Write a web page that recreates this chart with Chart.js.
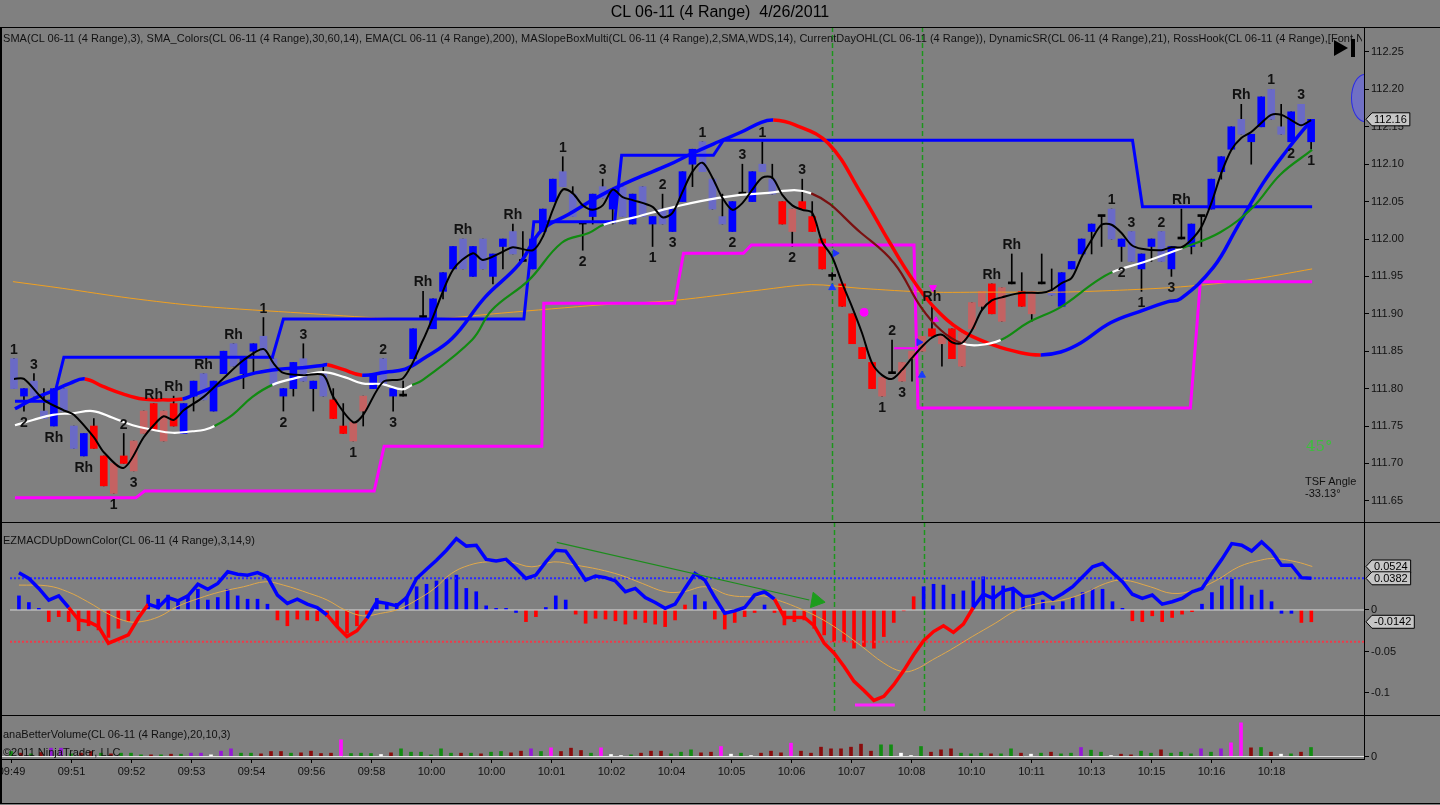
<!DOCTYPE html>
<html><head><meta charset="utf-8">
<script src="https://cdn.jsdelivr.net/npm/chart.js@4.4.1/dist/chart.umd.min.js"></script>
<style>
html,body{margin:0;padding:0;}
body{width:1440px;height:805px;background:#808080;position:relative;overflow:hidden;font-family:"Liberation Sans",Arial,sans-serif;color:#000;}
canvas{position:absolute;left:0;}
.t{position:absolute;white-space:nowrap;line-height:1;}
.hl{position:absolute;height:1px;background:#000;}
.vl{position:absolute;width:1px;background:#000;}
</style></head><body>
<canvas id="cPrice" width="1440" height="515" style="top:17px;width:1440px;height:515px"></canvas>
<canvas id="cMacd" width="1440" height="213" style="top:512px;width:1440px;height:213px"></canvas>
<canvas id="cVol" width="1440" height="100" style="top:705px;width:1440px;height:100px"></canvas>

<div class="t" style="left:0;top:4px;width:1440px;text-align:center;font-size:16px;">CL 06-11 (4 Range)&nbsp; 4/26/2011</div>
<div class="t" style="left:3px;top:33px;width:1359px;overflow:hidden;font-size:11px;letter-spacing:0.04px;color:#111;">SMA(CL 06-11 (4 Range),3), SMA_Colors(CL 06-11 (4 Range),30,60,14), EMA(CL 06-11 (4 Range),200), MASlopeBoxMulti(CL 06-11 (4 Range),2,SMA,WDS,14), CurrentDayOHL(CL 06-11 (4 Range)), DynamicSR(CL 06-11 (4 Range),21), RossHook(CL 06-11 (4 Range),[Font Name=Arial, Size=12])</div>
<div class="t" style="left:3px;top:535px;font-size:11px;color:#111;">EZMACDUpDownColor(CL 06-11 (4 Range),3,14,9)</div>
<div class="t" style="left:3px;top:729px;font-size:11px;color:#111;">anaBetterVolume(CL 06-11 (4 Range),20,10,3)</div>
<div class="t" style="left:3px;top:747px;font-size:11px;color:#111;">©2011 NinjaTrader, LLC</div>
<div class="t" style="left:1306px;top:439px;font-size:15px;color:#3cbf3c;font-family:'DejaVu Serif',serif;">45°</div>
<div class="t" style="left:1305px;top:476px;font-size:11px;color:#111;">TSF Angle</div>
<div class="t" style="left:1305px;top:488px;font-size:11px;color:#111;">-33.13°</div>

<div style="position:absolute;left:1334px;top:40px;width:0;height:0;border-left:14px solid #000;border-top:8px solid transparent;border-bottom:8px solid transparent;"></div>
<div style="position:absolute;left:1351px;top:39px;width:4px;height:18px;background:#000;"></div>
<div style="position:absolute;left:1340px;top:60px;width:24px;height:80px;overflow:hidden;">
  <div style="position:absolute;left:11px;top:14px;width:26px;height:46px;border:1px solid #2a2ae6;border-radius:50%;background:#7070c4;"></div>
</div>

<div class="hl" style="left:0;top:27px;width:1440px;"></div>
<div class="hl" style="left:0;top:522px;width:1440px;"></div>
<div class="hl" style="left:0;top:715px;width:1440px;"></div>
<div class="hl" style="left:0;top:759px;width:1364px;"></div>
<div class="hl" style="left:0;top:803px;width:1440px;"></div>
<div class="vl" style="left:0;top:27px;height:777px;width:2px;"></div>

<script>
// ---------------- DATA ----------------
const timeLabels = ['09:49','09:51','09:52','09:53','09:54','09:56','09:58','10:00','10:00','10:01','10:02','10:04','10:05','10:06','10:07','10:08','10:10','10:11','10:13','10:15','10:16','10:18'];
const timeTickBars = [0,6,12,18,24,30,36,42,48,54,60,66,72,78,84,90,96,102,108,114,120,126];

const opens = [111.84,111.79,111.81,111.77,111.75,111.80,111.75,111.71,111.75,111.71,
111.66,111.71,111.69,111.74,111.78,111.73,111.78,111.74,111.79,111.82,
111.77,111.82,111.86,111.82,111.85,111.87,111.84,111.79,111.80,111.84,
111.80,111.82,111.785,111.75,111.73,111.77,111.80,111.84,111.79,111.79,
111.84,111.895,111.88,111.93,111.96,112.00,111.95,112.00,111.95,111.99,
112.01,111.97,111.96,112.01,112.05,112.09,112.06,112.02,112.03,112.07,
112.04,112.07,112.02,112.07,112.02,112.04,112.01,112.05,112.10,112.13,
112.08,112.03,112.01,112.06,112.05,112.10,112.08,112.05,112.01,112.05,
112.03,112.00,111.95,111.94,111.90,111.855,111.835,111.79,111.82,111.81,
111.84,111.85,111.88,111.86,111.88,111.83,111.88,111.91,111.94,111.89,
111.94,111.93,111.90,111.94,111.93,111.91,111.96,111.98,112.01,112.03,
112.04,111.99,112.01,111.96,111.99,112.01,111.96,112.00,111.99,112.03,
112.04,112.09,112.12,112.16,112.13,112.15,112.20,112.15,112.13,112.18,
112.13];
const highs = [111.84,111.80,111.82,111.80,111.80,111.80,111.75,111.74,111.76,111.71,
111.70,111.74,111.73,111.77,111.78,111.77,111.79,111.78,111.81,111.82,
111.81,111.85,111.86,111.84,111.86,111.895,111.84,111.80,111.835,111.86,
111.81,111.83,111.80,111.78,111.755,111.79,111.82,111.84,111.80,111.81,
111.88,111.93,111.92,111.955,111.99,112.00,111.99,112.00,111.98,112.00,
112.02,112.01,112.00,112.04,112.08,112.11,112.07,112.02,112.06,112.08,
112.065,112.07,112.06,112.07,112.03,112.06,112.04,112.09,112.12,112.13,
112.08,112.06,112.05,112.10,112.09,112.13,112.10,112.05,112.04,112.08,
112.05,112.00,111.955,111.94,111.90,111.855,111.835,111.815,111.865,111.835,
111.85,111.87,111.91,111.87,111.88,111.875,111.915,111.93,111.94,111.935,
111.98,111.955,111.93,111.98,111.96,111.955,111.97,112.00,112.02,112.03,
112.04,112.00,112.01,111.98,112.00,112.01,111.99,112.04,112.02,112.03,
112.08,112.11,112.15,112.18,112.14,112.19,112.20,112.18,112.17,112.18,
112.16];
const lows = [111.80,111.77,111.79,111.76,111.75,111.77,111.72,111.71,111.72,111.67,
111.66,111.70,111.69,111.74,111.745,111.73,111.75,111.74,111.77,111.785,
111.77,111.82,111.83,111.80,111.82,111.84,111.805,111.77,111.79,111.81,
111.77,111.79,111.76,111.74,111.73,111.75,111.80,111.805,111.77,111.79,
111.84,111.895,111.88,111.92,111.96,111.96,111.95,111.96,111.94,111.96,
111.98,111.97,111.96,112.01,112.05,112.07,112.03,111.985,112.02,112.055,
112.02,112.03,112.02,112.03,111.99,112.02,112.01,112.05,112.07,112.09,
112.04,112.02,112.01,112.06,112.05,112.09,112.06,112.02,111.99,112.04,
112.01,111.96,111.945,111.91,111.86,111.84,111.80,111.79,111.82,111.81,
111.81,111.85,111.87,111.83,111.84,111.83,111.88,111.905,111.90,111.89,
111.94,111.91,111.89,111.94,111.925,111.91,111.96,111.98,111.98,111.99,
112.00,111.97,111.97,111.93,111.97,111.97,111.95,112.00,111.98,111.99,
112.04,112.08,112.12,112.14,112.10,112.15,112.16,112.14,112.13,112.15,
112.12];
const closes = [111.80,111.80,111.79,111.76,111.80,111.77,111.72,111.74,111.72,111.67,
111.70,111.70,111.73,111.77,111.745,111.77,111.75,111.78,111.81,111.785,
111.81,111.85,111.83,111.84,111.86,111.84,111.805,111.80,111.835,111.81,
111.81,111.79,111.76,111.74,111.755,111.79,111.82,111.805,111.80,111.79,
111.88,111.895,111.92,111.955,111.99,111.96,111.99,111.96,111.98,112.00,
111.98,111.97,112.00,112.04,112.08,112.07,112.03,112.02,112.06,112.055,
112.065,112.03,112.06,112.03,112.03,112.02,112.04,112.09,112.12,112.09,
112.04,112.02,112.05,112.06,112.09,112.09,112.06,112.02,112.04,112.04,
112.01,111.96,111.95,111.91,111.86,111.84,111.80,111.815,111.82,111.835,
111.85,111.87,111.87,111.87,111.84,111.875,111.915,111.93,111.90,111.935,
111.94,111.91,111.93,111.94,111.925,111.955,111.97,112.00,112.02,112.03,
112.00,112.00,111.97,111.98,112.00,111.97,111.99,112.00,112.02,112.03,
112.08,112.11,112.15,112.14,112.14,112.19,112.16,112.14,112.17,112.15,
112.16];
// bar trend state runs (U = blue trend, D = red trend)
const trendRuns = [['U',0,7],['D',8,16],['U',17,31],['D',32,35],['U',36,76],['D',77,103],['U',104,130]];

// RossHook labels: [bar, text, a=above high / b=below low]
const hookLabels = [[0,'1','a'],[1,'2','b'],[2,'3','a'],[4,'Rh','b'],[7,'Rh','b'],[10,'1','b'],[11,'2','a'],[12,'3','b'],[14,'Rh','a'],[16,'Rh','a'],[19,'Rh','a'],[22,'Rh','a'],[25,'1','a'],[27,'2','b'],[29,'3','a'],[34,'1','b'],[37,'2','a'],[38,'3','b'],[41,'Rh','a'],[45,'Rh','a'],[50,'Rh','a'],[55,'1','a'],[57,'2','b'],[59,'3','a'],[64,'1','b'],[65,'2','a'],[66,'3','b'],[69,'1','a'],[72,'2','b'],[73,'3','a'],[75,'1','a'],[78,'2','b'],[79,'3','a'],[87,'1','b'],[88,'2','a'],[89,'3','b'],[92,'Rh','a'],[98,'Rh','a'],[100,'Rh','a'],[110,'1','a'],[111,'2','b'],[112,'3','a'],[113,'1','b'],[115,'2','a'],[116,'3','b'],[117,'Rh','a'],[123,'Rh','a'],[126,'1','a'],[128,'2','b'],[129,'3','a'],[130,'1','b']];

// SMA(3) line [bar, price]
const smaPts = [[0,111.813],[1,111.813],[3,111.785],[5,111.771],[6,111.765],[8,111.735],[9,111.715],[11,111.694],[13,111.735],[14,111.751],[15,111.763],[16,111.758],[17,111.771],[19,111.789],[21,111.814],[23,111.838],[25,111.853],[26,111.834],[27,111.821],[29,111.818],[31,111.818],[32,111.789],[34,111.755],[35,111.765],[37,111.809],[39,111.814],[41,111.865],[42,111.896],[44,111.959],[46,111.981],[47,111.972],[49,111.983],[50,111.989],[52,111.985],[53,112.003],[54,112.039],[55,112.066],[56,112.061],[57,112.045],[58,112.039],[59,112.045],[60,112.066],[61,112.056],[62,112.052],[64,112.043],[65,112.029],[66,112.035],[67,112.063],[68,112.090],[69,112.102],[70,112.082],[71,112.055],[72,112.039],[73,112.048],[74,112.066],[75,112.082],[76,112.082],[77,112.059],[78,112.045],[79,112.039],[80,112.035],[81,111.996],[82,111.976],[83,111.941],[84,111.909],[85,111.874],[86,111.834],[87,111.818],[88,111.813],[89,111.825],[90,111.841],[91,111.856],[92,111.868],[93,111.872],[94,111.862],[95,111.861],[96,111.878],[97,111.905],[98,111.918],[99,111.922],[101,111.928],[103,111.928],[104,111.932],[105,111.941],[106,111.948],[107,111.976],[108,111.999],[109,112.019],[110,112.019],[111,112.008],[112,111.992],[113,111.987],[115,111.985],[116,111.989],[117,111.989],[118,111.999],[119,112.016],[120,112.048],[121,112.088],[122,112.119],[123,112.135],[124,112.143],[125,112.155],[126,112.166],[127,112.166],[128,112.159],[129,112.152],[130,112.159]];

// SMA_Colors slow line [bar, price, state of segment starting here: w=white g=green m=maroon]
const midPts = [[0.1,111.751,'w'],[1.9,111.758,'w'],[3.9,111.765,'w'],[5.9,111.767,'w'],[7.9,111.770,'w'],[9.9,111.761,'w'],[11.9,111.751,'w'],[13.9,111.745,'w'],[15.9,111.741,'w'],[17.9,111.743,'w'],[19.1,111.745,'w'],
[20.1,111.750,'g'],[21.9,111.765,'g'],[23.9,111.789,'g'],
[25.9,111.805,'w'],[28.2,111.814,'w'],[30.9,111.822,'w'],[33.2,111.815,'w'],[34.9,111.807,'w'],[36.9,111.806,'w'],[38.9,111.799,'w'],
[39.9,111.805,'g'],[40.9,111.811,'g'],[45.9,111.865,'g'],[47.9,111.905,'g'],[51.6,111.945,'g'],[54.9,111.995,'g'],[57.6,112.008,'g'],
[59.1,112.019,'w'],[62.2,112.029,'w'],[66.2,112.043,'w'],[70.6,112.055,'w'],[74.9,112.061,'w'],
[79.9,112.061,'m'],[84.9,112.008,'m'],[88.2,111.968,'m'],[90.9,111.909,'m'],[92.9,111.878,'m'],
[94.9,111.861,'w'],[96.6,111.858,'w'],
[98.9,111.865,'g'],[101.6,111.888,'g'],[104.9,111.909,'g'],[108.2,111.941,'g'],
[110.1,111.956,'w'],[113.2,111.969,'w'],
[117.1,111.988,'g'],[120.9,112.009,'g'],[124.2,112.043,'g'],[126.9,112.086,'g'],[130.1,112.119,'g']];

// SMA_Colors fast line [bar, price, b=blue r=red]
const fastPts = [[0.1,111.773,'b'],[1.9,111.786,'b'],[3.9,111.797,'b'],[5.6,111.807,'b'],
[7.1,111.813,'r'],[8.9,111.803,'r'],[10.9,111.793,'r'],[12.9,111.786,'r'],[14.9,111.785,'r'],
[16.9,111.786,'b'],[17.9,111.791,'b'],[20.2,111.803,'b'],[22.2,111.813,'b'],[24.2,111.821,'b'],[26.6,111.826,'b'],[28.9,111.828,'b'],[30.9,111.831,'b'],
[31.4,111.832,'r'],[32.9,111.826,'r'],
[34.9,111.818,'b'],[37.2,111.822,'b'],[39.2,111.826,'b'],[40.9,111.839,'b'],[43.9,111.867,'b'],[47.2,111.922,'b'],[50.6,111.966,'b'],[52.9,112.012,'b'],[55.6,112.033,'b'],[58.9,112.059,'b'],[62.2,112.080,'b'],[65.6,112.099,'b'],[67.9,112.114,'b'],[70.6,112.130,'b'],[72.9,112.143,'b'],[74.9,112.156,'b'],
[76.1,112.159,'r'],[78.2,112.153,'r'],[81.6,112.128,'r'],[84.9,112.061,'r'],[87.6,111.999,'r'],[89.9,111.949,'r'],[92.2,111.909,'r'],[94.9,111.878,'r'],[98.2,111.858,'r'],[100.9,111.848,'r'],
[102.9,111.845,'b'],[104.9,111.849,'b'],[106.9,111.861,'b'],[109.9,111.888,'b'],[113.2,111.905,'b'],[115.6,111.916,'b'],[116.9,111.920,'b'],[120.2,111.962,'b'],[122.6,112.016,'b'],[125.2,112.075,'b'],[127.6,112.119,'b'],[129.9,112.157,'b']];

// EMA(200)
const emaPts = [[-0.1,111.943],[4.9,111.934],[11.6,111.921],[18.9,111.910],[28.9,111.901],[37.2,111.894],[41.9,111.893],[48.9,111.901],[58.9,111.912],[66.2,111.918],[74.9,111.932],[79.9,111.939],[84.9,111.934],[91.6,111.929],[98.2,111.929],[104.9,111.929],[111.6,111.932],[116.9,111.936],[123.6,111.945],[130.1,111.960]];

// DynamicSR resistance / support steps
const resistPts = [[0.1,111.783],[3.9,111.783],[5.0,111.842],[25.9,111.842],[27.0,111.893],[51.1,111.893],[52.1,112.023],[60.2,112.023],[60.9,112.112],[70.1,112.112],[71.1,112.132],[112.1,112.132],[113.1,112.043],[130.1,112.043]];
const supportPts = [[0.1,111.654],[12.2,111.654],[13.1,111.663],[36.1,111.663],[37.1,111.723],[52.9,111.723],[53.1,111.914],[66.2,111.914],[67.1,111.981],[73.1,111.981],[73.9,111.992],[90.2,111.992],[90.6,111.774],[117.9,111.774],[118.9,111.943],[130.1,111.943]];
const dayLevelPts = [[88.2,111.854],[90.6,111.854]];

// signal markers
const signalBars = [82, 91];
const blueUpArrows = [[82,111.935],[91,111.818]];
const blueRightTri = [[82.3,111.981],[90.7,111.862]];
const magentaDots = [[85.2,111.902]];
const magentaDownArrows = [[92.1,111.935]];
const magentaUpArrows = [[92.4,111.892]];
const lastPrice = 112.16;
const priceTicks = [111.65,111.70,111.75,111.80,111.85,111.90,111.95,112.00,112.05,112.10,112.15,112.20,112.25];

// EZMACD
const macdVals = [0.045,0.038,0.026,0.012,0.017,0.003,-0.012,-0.014,-0.020,-0.040,
-0.035,-0.030,-0.010,0.007,0.003,0.015,0.011,0.017,0.031,0.025,
0.032,0.046,0.043,0.042,0.045,0.040,0.018,0.008,0.013,0.007,
0.003,-0.006,-0.020,-0.032,-0.025,-0.010,0.010,0.008,0.005,0.015,
0.038,0.049,0.060,0.072,0.086,0.077,0.078,0.061,0.059,0.061,
0.050,0.038,0.042,0.058,0.072,0.071,0.054,0.036,0.041,0.039,
0.035,0.022,0.026,0.015,0.009,0.002,0.007,0.026,0.044,0.036,
0.015,-0.004,-0.001,0.003,0.018,0.022,0.013,-0.009,-0.009,-0.009,
-0.019,-0.040,-0.052,-0.068,-0.086,-0.097,-0.109,-0.104,-0.090,-0.073,
-0.054,-0.037,-0.026,-0.019,-0.027,-0.017,0.003,0.019,0.014,0.023,
0.026,0.016,0.017,0.021,0.013,0.020,0.028,0.040,0.052,0.056,
0.045,0.034,0.019,0.014,0.018,0.007,0.010,0.014,0.022,0.026,
0.044,0.061,0.080,0.078,0.071,0.082,0.071,0.054,0.054,0.039,
0.0382];
const macdDownRanges = [[5,13],[31,35],[76,96]];
const signalPts = [[0.0,0.030],[2.9,0.029],[4.9,0.022],[6.9,0.010],[9.2,-0.006],[11.0,-0.014],[12.3,-0.014],[14.1,-0.008],[15.9,0.004],[18.1,0.014],[20.3,0.022],[22.6,0.028],[24.8,0.034],[26.6,0.030],[29.2,0.020],[31.0,0.012],[32.8,0.000],[34.6,-0.007],[36.4,-0.004],[38.2,0.001],[40.0,0.012],[41.8,0.026],[43.5,0.044],[45.3,0.054],[47.1,0.058],[49.4,0.058],[51.6,0.052],[53.8,0.058],[56.0,0.054],[58.3,0.049],[60.5,0.042],[62.7,0.032],[65.0,0.022],[66.8,0.022],[69.1,0.028],[71.4,0.018],[73.6,0.016],[74.9,0.017],[76.3,0.012],[78.1,0.004],[80.3,-0.008],[82.5,-0.024],[84.8,-0.044],[87.0,-0.064],[88.8,-0.074],[90.1,-0.072],[91.9,-0.060],[93.7,-0.048],[95.9,-0.032],[98.2,-0.016],[100.4,0.000],[102.6,0.008],[104.9,0.012],[107.1,0.020],[109.3,0.032],[111.1,0.036],[113.8,0.028],[116.0,0.020],[118.2,0.024],[120.5,0.036],[122.7,0.052],[124.9,0.060],[126.3,0.062],[128.5,0.058],[130.1,0.0524]];
const histVals = [0.017,0.009,0.002,-0.014,-0.008,-0.014,-0.025,-0.019,-0.024,-0.033,
-0.022,-0.014,-0.002,0.018,0.013,0.018,0.012,0.018,0.025,0.012,
0.015,0.025,0.017,0.013,0.013,0.007,-0.012,-0.019,-0.011,-0.012,
-0.013,-0.008,-0.019,-0.028,-0.019,-0.005,0.014,0.009,0.008,0.016,
0.028,0.031,0.035,0.037,0.042,0.026,0.022,0.005,0.002,0.002,
-0.003,-0.014,-0.008,0.003,0.017,0.012,-0.005,-0.016,-0.010,-0.011,
-0.013,-0.017,-0.011,-0.015,-0.017,-0.020,-0.012,0.006,0.018,0.010,
-0.011,-0.023,-0.015,-0.008,-0.003,0.006,-0.003,-0.018,-0.014,-0.012,
-0.022,-0.030,-0.038,-0.038,-0.046,-0.044,-0.046,-0.032,-0.015,-0.001,
0.016,0.028,0.031,0.030,0.019,0.023,0.035,0.040,0.029,0.029,
0.025,0.018,0.014,0.012,0.005,0.010,0.015,0.021,0.025,0.025,
0.010,0.002,-0.013,-0.014,-0.007,-0.014,-0.009,-0.005,-0.002,0.007,
0.021,0.029,0.037,0.029,0.018,0.024,0.010,-0.004,-0.004,-0.015,
-0.0142];
const histRuns = [['U',0,2],['D',3,12],['U',13,25],['D',26,35],['U',36,50],['D',51,52],['U',53,55],['D',56,67],['U',68,69],['D',70,74],['U',75,75],['D',76,90],['U',91,111],['D',112,118],['U',119,128],['D',129,130]];
const macdLevels = [0.0382, -0.0382];
const macdTrendPts = [[54.1,0.0815],[79.5,0.0120]];
const macdArrow = [[80.2,0.0112]];
const macdLowMark = [[84.1,-0.1145],[88.1,-0.1145]];
const macdTicks = [0,-0.05,-0.1];
const macdTags = [[0.0524,'0.0524'],[0.0382,'0.0382'],[-0.0142,'-0.0142']];

// anaBetterVolume
const volumes = [15,10,8,12,25,25,8,10,15,10,
8,10,10,5,5,5,7,7,10,10,
5,16,23,10,10,8,15,15,10,11,
16,9,10,50,9,10,9,6,11,23,
13,13,5,23,10,10,10,8,13,15,
11,16,23,15,26,15,25,18,10,26,
6,3,5,10,16,16,8,13,20,11,
13,30,7,10,3,10,16,11,40,16,
10,28,23,23,28,37,16,35,35,10,
3,30,13,20,23,10,8,10,8,8,
23,10,7,10,13,8,10,27,19,13,
3,7,5,16,10,20,10,13,8,23,
13,23,41,101,26,27,13,7,8,13,
27];
const volTypes = 'grgrppgrrg'+'rgggrgrgpp'+'wppggrrrgr'+'rrrmgggwrg'+'gggggrgrgg'+'rrpgmrrrgm'+'wwgrrrgggr'+'rmwgwrrrmr'+'rrrrrrrggw'+'wgrrrgggrg'+'grwgrggpgg'+'wrrggrgggp'+'gpmmrgrwgr'+'g';
const volTicks = [0];

// ---------------- CHARTS ----------------
const X_MIN = -0.9, X_MAX = 135.3;
function runsToArray(runs){ const out=[]; runs.forEach(([s,a,b])=>{ for(let i=a;i<=b;i++) out[i]=s; }); return out; }
const trend = runsToArray(trendRuns);
const histState = runsToArray(histRuns);
const bars = opens.map((_, i) => i);
const pts = arr => arr.map(p => ({x:p[0], y:p[1]}));

Chart.defaults.font.family = '"Liberation Sans", Arial, sans-serif';
Chart.defaults.font.size = 11;
Chart.defaults.color = '#111';
Chart.defaults.animation = false;
Chart.defaults.events = [];
Chart.defaults.plugins.legend.display = false;
Chart.defaults.plugins.tooltip.enabled = false;

function yAxis(min, max, ticks, fmt){
  return { type:'linear', position:'right', min:min, max:max,
    afterBuildTicks: s => { s.ticks = ticks.map(v => ({value:v})); },
    afterFit: s => { s.width = 76; s.paddingTop = 0; s.paddingBottom = 0; },
    ticks: { callback: fmt, padding: 2, color:'#111', font:{size:11}, autoSkip:false, maxRotation:0 },
    grid: { drawOnChartArea:false, drawTicks:true, tickLength:5, color:'#000' },
    border: { display:true, color:'#000', width:1 } };
}
const xAxis = () => ({ type:'linear', min:X_MIN, max:X_MAX, display:false, offset:false });
const baseOpts = (scalesY, pad) => ({ responsive:false, maintainAspectRatio:false, devicePixelRatio:1, animation:false,
  layout:{ padding: pad }, scales:{ x: xAxis(), y: scalesY }, plugins:{ legend:{display:false}, tooltip:{enabled:false} } });

function candleColor(i){
  const o = opens[i], c = closes[i];
  if (o === c) return '#000000';
  if (trend[i] === 'U') return c > o ? '#0000ff' : '#6a6ac6';
  return c < o ? '#ff0000' : '#c46262';
}

const vLinePlugin = bottomInset => ({ id:'vlines', beforeDatasetsDraw(chart){
  const {ctx, chartArea, scales:{x}} = chart; ctx.save();
  ctx.strokeStyle = '#1c961c'; ctx.lineWidth = 1.5; ctx.setLineDash([5,3]);
  signalBars.forEach(b => { const px = Math.round(x.getPixelForValue(b)) + 0.5; ctx.beginPath(); ctx.moveTo(px, chartArea.top); ctx.lineTo(px, chartArea.bottom - bottomInset); ctx.stroke(); });
  ctx.restore(); } });

function drawTag(ctx, x, y, text){
  ctx.save(); ctx.font = '11px "Liberation Sans", Arial, sans-serif';
  const w = ctx.measureText(text).width + 5, h = 13;
  ctx.beginPath(); ctx.moveTo(x, y); ctx.lineTo(x + 6, y - h/2); ctx.lineTo(x + 6 + w, y - h/2); ctx.lineTo(x + 6 + w, y + h/2); ctx.lineTo(x + 6, y + h/2); ctx.closePath();
  ctx.fillStyle = '#c6c6c6'; ctx.fill(); ctx.strokeStyle = '#000'; ctx.lineWidth = 1; ctx.stroke();
  ctx.fillStyle = '#000'; ctx.textBaseline = 'middle'; ctx.textAlign = 'left'; ctx.fillText(text, x + 8, y + 0.5);
  ctx.restore();
}

const hookPlugin = { id:'hooks', afterDatasetsDraw(chart){
  const {ctx, scales:{x, y}} = chart; ctx.save();
  ctx.font = 'bold 14px "Liberation Sans", Arial, sans-serif'; ctx.fillStyle = '#111'; ctx.textAlign = 'center';
  hookLabels.forEach(([i, t, pos]) => {
    const px = x.getPixelForValue(i);
    if (pos === 'a') { ctx.textBaseline = 'alphabetic'; ctx.fillText(t, px, y.getPixelForValue(highs[i]) - 5); }
    else { ctx.textBaseline = 'top'; ctx.fillText(t, px, y.getPixelForValue(lows[i]) + 5); }
  });
  ctx.restore(); },
  afterDraw(chart){ const {scales:{y}, chartArea} = chart; drawTag(chart.ctx, chartArea.right + 2, y.getPixelForValue(lastPrice), lastPrice.toFixed(2)); } };

const lineDs = (data, color, width, tension, order, extra) => Object.assign({ type:'line', data: pts(data), borderColor: color, borderWidth: width, pointRadius: 0, tension: tension, order: order, fill:false }, extra || {});
const markerDs = (data, color, style, rot, r) => ({ type:'line', data: pts(data), showLine:false, pointStyle: style, pointRotation: rot, pointRadius: r, backgroundColor: color, borderColor: color, borderWidth: 1, order: 1 });
const midColor = {w:'#ffffff', g:'#118a11', m:'#7a1010'};
const fastColor = {b:'#0000ff', r:'#ff0000'};

new Chart(document.getElementById('cPrice'), {
  type:'line',
  data:{ datasets:[
    { type:'bar', data: bars.map(i => ({x:i, y:[lows[i], highs[i]]})), backgroundColor:'#000', barThickness:1, grouped:false, order:30 },
    { type:'bar', data: bars.map(i => ({x:i, y:[opens[i], closes[i]]})), backgroundColor: c => candleColor(c.dataIndex), barThickness:7, minBarLength:2, grouped:false, order:29 },
    lineDs(emaPts, '#f0a020', 1, 0.3, 20),
    lineDs(supportPts, '#ff00ff', 3, 0, 19),
    lineDs(resistPts, '#0000ff', 3, 0, 18),
    lineDs(dayLevelPts, '#ff00ff', 2, 0, 18),
    lineDs(fastPts, '#0000ff', 3.5, 0.4, 17, { segment:{ borderColor: c => fastColor[fastPts[c.p0DataIndex][2]] } }),
    lineDs(midPts, '#ffffff', 2.2, 0.4, 16, { segment:{ borderColor: c => midColor[midPts[c.p0DataIndex][2]] } }),
    lineDs(smaPts, '#000000', 2, 0.3, 15),
    markerDs(blueUpArrows, '#1a3cff', 'triangle', 0, 4),
    markerDs(blueRightTri, '#2030ff', 'triangle', 90, 4),
    markerDs(magentaDots, '#ff00ff', 'circle', 0, 4),
    markerDs(magentaDownArrows, '#ff00ff', 'triangle', 180, 4),
    markerDs(magentaUpArrows, '#ff00ff', 'triangle', 0, 3)
  ]},
  options: baseOpts(yAxis(111.6217, 112.2834, priceTicks, v => Number(v).toFixed(2)), {top:10, bottom:10, left:2, right:0}),
  plugins:[vLinePlugin(0), hookPlugin]
});

function inDown(i){ return macdDownRanges.some(([a,b]) => i >= a && i < b); }
const macdTagPlugin = { id:'macdTags', afterDraw(chart){ const {scales:{y}, chartArea} = chart; macdTags.forEach(([v, t]) => drawTag(chart.ctx, chartArea.right + 2, y.getPixelForValue(v), t)); } };

new Chart(document.getElementById('cMacd'), {
  type:'line',
  data:{ datasets:[
    { type:'bar', data: bars.map(i => ({x:i, y:histVals[i]})), backgroundColor: c => histState[c.dataIndex] === 'U' ? '#0000ff' : '#ff0000', barThickness:3, grouped:false, order:30 },
    lineDs([[X_MIN,0],[X_MAX,0]], '#d8d8d8', 1, 0, 29),
    lineDs([[X_MIN,macdLevels[0]],[X_MAX,macdLevels[0]]], '#2a2aff', 2, 0, 28, { borderDash:[2,2] }),
    lineDs([[X_MIN,macdLevels[1]],[X_MAX,macdLevels[1]]], '#ee3a4a', 2, 0, 28, { borderDash:[2,2] }),
    lineDs(signalPts, '#e0a84a', 1, 0.4, 20),
    { type:'line', data: bars.map(i => ({x:i, y:macdVals[i]})), borderColor:'#0000ff', borderWidth:3.5, pointRadius:0, tension:0, order:15,
      segment:{ borderColor: c => inDown(c.p0DataIndex) ? '#ff0000' : '#0000ff' } },
    lineDs(macdTrendPts, '#1c8c1c', 1.2, 0, 14),
    markerDs(macdArrow, '#1c9c1c', 'triangle', 100, 9),
    lineDs(macdLowMark, '#ff22ff', 3, 0, 14)
  ]},
  options: baseOpts(yAxis(-0.12651, 0.10602, macdTicks, v => String(v)), {top:10, bottom:10, left:2, right:0}),
  plugins:[vLinePlugin(4), macdTagPlugin]
});

const volColor = {g:'#128c12', r:'#8a0c0c', m:'#ff10ff', p:'#9418d6', w:'#ffffff'};
const timeAxisPlugin = { id:'timeAxis', afterDraw(chart){
  const {ctx, chartArea, scales:{x}} = chart; ctx.save();
  ctx.strokeStyle = '#000'; ctx.lineWidth = 1; ctx.fillStyle = '#111';
  ctx.font = '11px "Liberation Sans", Arial, sans-serif'; ctx.textAlign = 'center'; ctx.textBaseline = 'middle';
  timeTickBars.forEach((b, k) => { const px = Math.round(x.getPixelForValue(b)) + 0.5;
    ctx.beginPath(); ctx.moveTo(px, chartArea.bottom); ctx.lineTo(px, chartArea.bottom + 4); ctx.stroke();
    ctx.fillText(timeLabels[k], px, chartArea.bottom + 13); });
  ctx.restore(); } };

new Chart(document.getElementById('cVol'), {
  type:'line',
  data:{ datasets:[
    { type:'bar', data: bars.map(i => ({x:i, y:volumes[i]})), backgroundColor: c => volColor[volTypes[c.dataIndex]], barThickness:3, grouped:false, order:30 },
    lineDs([[X_MIN,0],[X_MAX,0]], '#e4e4e4', 1, 0, 10)
  ]},
  options: baseOpts(yAxis(-7.5, 124.5, volTicks, v => String(v)), {top:10, bottom:46, left:2, right:0}),
  plugins:[timeAxisPlugin]
});
</script>
</body></html>
